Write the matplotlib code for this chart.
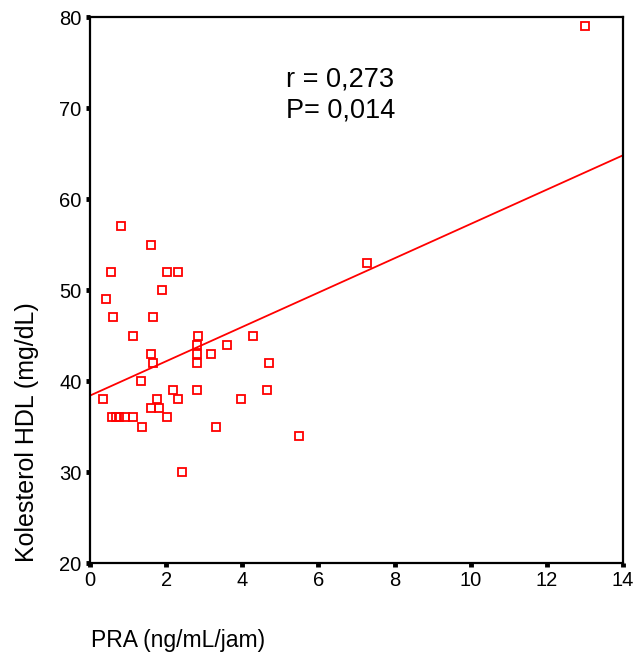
import numpy as np
import matplotlib
matplotlib.use("Agg")
from matplotlib import pyplot as plt

plt.rcParams['font.family'] = ['Liberation Sans', 'DejaVu Sans']

# PRA vs HDL data
pra = [13.0, 7.28, 5.48, 4.69, 4.64, 4.27, 3.96, 3.59, 3.30, 3.17,
       2.83, 2.80, 2.80, 2.80, 2.80, 2.41, 2.30, 2.30, 2.17, 2.01,
       2.01, 1.88, 1.82, 1.75, 1.65, 1.65, 1.59, 1.59, 1.59, 1.36,
       1.33, 1.12, 1.12, 0.93, 0.81, 0.75, 0.67, 0.59, 0.60, 0.54,
       0.41, 0.33]
hdl = [79, 53, 34, 42, 39, 45, 38, 44, 35, 43,
       45, 44, 43, 42, 39, 30, 52, 38, 39, 52,
       36, 50, 37, 38, 47, 42, 55, 43, 37, 35,
       40, 45, 36, 36, 57, 36, 36, 36, 47, 52,
       49, 38]

# regression line as drawn (intercept, slope)
fit_line = [38.4, 1.886]
x_ticks = [0, 2, 4, 6, 8, 10, 12, 14]
y_ticks = [20, 30, 40, 50, 60, 70, 80]

fig = plt.figure(figsize=(6.36, 6.62), dpi=100)
ax = fig.add_axes([0.1415, 0.1495, 0.838, 0.8248])

ax.plot(pra, hdl, 's', markersize=6, markerfacecolor='none',
        markeredgecolor='red', markeredgewidth=1.3)

xl = np.array([0, 14])
ax.plot(xl, fit_line[0] + fit_line[1] * xl, '-', color='red', lw=1.3)

ax.set_xlim(0, 14)
ax.set_ylim(20, 80)
ax.set_xticks(x_ticks)
ax.set_yticks(y_ticks)
ax.tick_params(direction='out', length=3, width=3.5, labelsize=14.5, pad=3)
for s in ax.spines.values():
    s.set_linewidth(1.6)

ax.text(0.367, 0.857, "r = 0,273\nP= 0,014", transform=ax.transAxes,
        fontsize=19.5, va='center', ha='left', linespacing=1.22)

ax.set_ylabel("Kolesterol HDL (mg/dL)", fontsize=18)
ax.yaxis.set_label_coords(-0.096, 0.24)
fig.text(0.143, 0.033, "PRA (ng/mL/jam)", fontsize=16.5, ha='left', va='center')

plt.savefig('out.png')
